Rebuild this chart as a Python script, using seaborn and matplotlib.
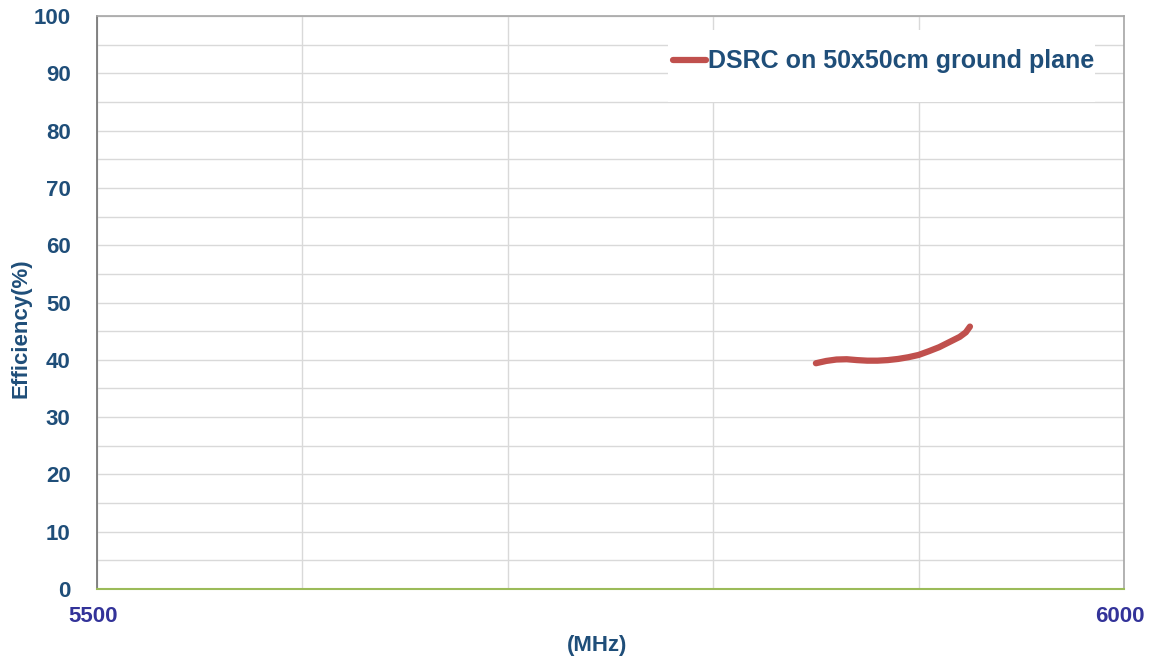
import matplotlib
matplotlib.use("Agg")
import matplotlib.pyplot as plt
import matplotlib.transforms as mtransforms
from matplotlib.patches import Rectangle
from matplotlib.ticker import MultipleLocator, FixedLocator
import seaborn as sns
import pandas as pd

# Measured efficiency of the DSRC antenna on a 50x50 cm ground plane
freq_mhz = [5850, 5855, 5860, 5865, 5870, 5875, 5880, 5885, 5890, 5895,
            5900, 5905, 5910, 5915, 5920, 5923, 5925]
efficiency_pct = [39.4, 39.8, 40.05, 40.1, 39.95, 39.85, 39.85, 39.95, 40.15, 40.45,
                  40.85, 41.5, 42.2, 43.1, 44.0, 44.8, 45.8]
series_name = "DSRC on 50x50cm ground plane"
x_tick_labels = ["5500", "6000"]
y_ticks = [0, 10, 20, 30, 40, 50, 60, 70, 80, 90, 100]

df = pd.DataFrame({"MHz": freq_mhz, "Efficiency": efficiency_pct, "series": series_name})

sns.set_style("white")
plt.rcParams["font.family"] = ["Liberation Sans", "DejaVu Sans"]
plt.rcParams["font.weight"] = "bold"

fig = plt.figure(figsize=(11.52, 6.61), dpi=100)
ax = fig.add_axes([0.0842, 0.1089, 0.9757 - 0.0842, 0.9758 - 0.1089])

sns.lineplot(data=df, x="MHz", y="Efficiency", hue="series", palette=["#C0504D"],
             linewidth=4.5, ax=ax, legend=False, zorder=3,
             solid_capstyle="round")

ax.set_xlim(5500, 6000)
ax.set_ylim(0, 100)

# grid: vertical every 100 MHz, horizontal every 5 %
ax.xaxis.set_major_locator(FixedLocator([5500, 6000]))
ax.xaxis.set_minor_locator(MultipleLocator(100))
ax.yaxis.set_major_locator(FixedLocator(y_ticks))
ax.yaxis.set_minor_locator(MultipleLocator(5))
ax.set_axisbelow(True)
ax.grid(True, which="both", axis="both", color="#D9D9D9", linewidth=1.0, zorder=0)

ax.set_xticklabels(x_tick_labels)
ax.tick_params(axis="x", which="both", length=0, pad=12.5, labelsize=16,
               labelcolor="#333399")
ax.tick_params(axis="y", which="major", direction="in", length=5, width=1,
               color="#707070", pad=19, labelsize=16, labelcolor="#1F4E79")
ax.tick_params(axis="y", which="minor", length=0)
shift = mtransforms.ScaledTranslation(-4 / 100, 0, fig.dpi_scale_trans)
for lab in ax.get_xticklabels():
    lab.set_fontweight("bold")
    lab.set_transform(lab.get_transform() + shift)
for lab in ax.get_yticklabels():
    lab.set_fontweight("bold")

for side in ["top", "right"]:
    ax.spines[side].set_color("#A6A6A6")
    ax.spines[side].set_linewidth(1.2)
ax.spines["left"].set_color("#707070")
ax.spines["left"].set_linewidth(1.2)
ax.spines["bottom"].set_color("#9BBB59")
ax.spines["bottom"].set_linewidth(1.5)

ax.set_xlabel("(MHz)", fontsize=16, fontweight="bold", color="#1F4E79")
ax.set_ylabel("Efficiency(%)", fontsize=16, fontweight="bold", color="#1F4E79")
ax.xaxis.set_label_coords(0.487, -0.080)
ax.yaxis.set_label_coords(-0.064, 0.455)

# white legend area
ax.add_patch(Rectangle((0.556, 0.85), 0.416, 0.1256, transform=ax.transAxes,
                       facecolor="white", edgecolor="none", zorder=1))
handle = plt.Line2D([], [], color="#C0504D", linewidth=4.5, solid_capstyle="round")
leg = ax.legend([handle], [series_name], loc="center left",
                bbox_to_anchor=(0.561, 0.921), frameon=False, borderpad=0,
                borderaxespad=0, handlelength=1.3, handletextpad=0.1,
                prop={"size": 18, "weight": "bold"})
for t in leg.get_texts():
    t.set_color("#1F4E79")
leg.set_zorder(5)

fig.savefig("out.png", dpi=100, facecolor="white")
